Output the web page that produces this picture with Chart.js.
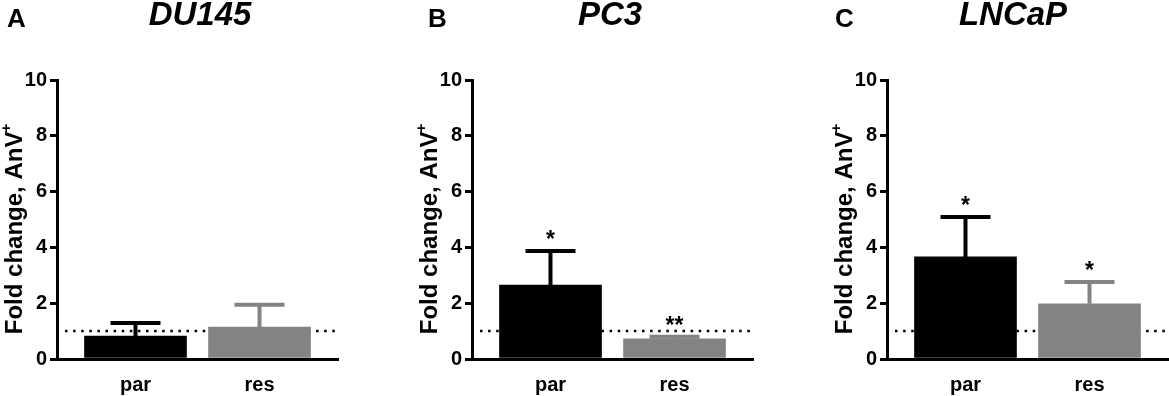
<!DOCTYPE html>
<html>
<head>
<meta charset="utf-8">
<script src="https://cdn.jsdelivr.net/npm/chart.js@4.4.1/dist/chart.umd.min.js"></script>
<style>
	body { margin: 0; background: #fff; width: 1169px; height: 396px; overflow: hidden; position: relative; }
	.panel { position: absolute; top: 0; width: 339px; height: 396px; }
</style>
</head>
<body>
<div class="panel" style="left:0"><canvas id="chartA" width="339" height="396"></canvas></div>
<div class="panel" style="left:415px"><canvas id="chartB" width="339" height="396"></canvas></div>
<div class="panel" style="left:830px"><canvas id="chartC" width="339" height="396"></canvas></div>
<script>
const categories = ['par', 'res'];
const yTicks = [0, 2, 4, 6, 8, 10];
const referenceLevel = 1;

const du145Means = [0.82, 1.14];
const du145Sem = [0.47, 0.80];
const du145Stars = ['', ''];

const pc3Means = [2.65, 0.72];
const pc3Sem = [1.22, 0.08];
const pc3Stars = ['*', '**'];

const lncapMeans = [3.66, 1.98];
const lncapSem = [1.43, 0.78];
const lncapStars = ['*', '*'];

const BAR_COLORS = ['#000000', '#838383'];
const FONT = '"Liberation Sans", Arial, sans-serif';

// errors, asterisks, dotted line, labels
const decorPlugin = {
	id: 'decor',
	beforeDatasetsDraw(chart) {
		const { ctx, chartArea, scales } = chart;
		const y = scales.y.getPixelForValue(referenceLevel);
		ctx.save();
		ctx.strokeStyle = '#000';
		ctx.lineWidth = 2.5;
		ctx.setLineDash([2.5, 5.6]);
		ctx.beginPath();
		ctx.moveTo(chartArea.left + 8, y);
		ctx.lineTo(chartArea.right, y);
		ctx.stroke();
		ctx.restore();
	},
	afterDraw(chart, args, opts) {
		const { ctx, chartArea, scales } = chart;
		const ds = chart.data.datasets[0];
		const meta = chart.getDatasetMeta(0);
		ctx.save();
		meta.data.forEach((bar, i) => {
			const top = scales.y.getPixelForValue(ds.data[i].y + ds.errors[i]);
			ctx.strokeStyle = BAR_COLORS[i];
			ctx.lineWidth = 4;
			ctx.beginPath();
			ctx.moveTo(bar.x, bar.y);
			ctx.lineTo(bar.x, top);
			ctx.moveTo(bar.x - 25, top);
			ctx.lineTo(bar.x + 25, top);
			ctx.stroke();
			if (ds.stars[i]) {
				ctx.fillStyle = '#000';
				ctx.font = 'bold 23px ' + FONT;
				ctx.textAlign = 'center';
				ctx.textBaseline = 'alphabetic';
				ctx.fillText(ds.stars[i], bar.x, top - 4);
			}
		});

		// y axis title with superscript
		ctx.fillStyle = '#000';
		ctx.translate(15, (chartArea.top + chartArea.bottom) / 2 + 9);
		ctx.rotate(-Math.PI / 2);
		ctx.textBaseline = 'middle';
		ctx.textAlign = 'left';
		ctx.font = 'bold 24px ' + FONT;
		const main = 'Fold change, AnV';
		const w = ctx.measureText(main).width;
		ctx.font = 'bold 15px ' + FONT;
		const ws = ctx.measureText('+').width;
		const x0 = -(w + ws) / 2;
		ctx.font = 'bold 24px ' + FONT;
		ctx.fillText(main, x0, 0);
		ctx.font = 'bold 15px ' + FONT;
		ctx.fillText('+', x0 + w - 1, -8);
		ctx.setTransform(1, 0, 0, 1, 0, 0);

		ctx.textAlign = 'left';
		ctx.textBaseline = 'alphabetic';
		ctx.font = 'bold 26px ' + FONT;
		ctx.fillText(opts.letter, opts.letterX, 27);
		ctx.textAlign = 'center';
		ctx.font = 'italic bold 33px ' + FONT;
		ctx.fillText(opts.title, opts.titleX, 25);
		ctx.restore();
	},
};

function makePanel(canvasId, means, sems, stars, title, letter, letterX, titleX) {
	return new Chart(document.getElementById(canvasId), {
		type: 'bar',
		data: {
			datasets: [
				{
					data: means.map((m, i) => ({ x: i, y: m })),
					backgroundColor: BAR_COLORS,
					barThickness: 102,
					errors: sems,
					stars: stars,
				},
			],
		},
		options: {
			responsive: false,
			animation: false,
			layout: { padding: { top: 80, right: 1, bottom: 0, left: 0 } },
			scales: {
				x: {
					type: 'linear',
					offset: false,
					min: -0.633,
					max: 1.633,
					afterBuildTicks: scale => {
						scale.ticks = categories.map((c, i) => ({ value: i }));
					},
					afterFit: scale => {
						scale.height = 37;
					},
					ticks: {
						callback: v => categories[v],
						color: '#000',
						font: { family: FONT, size: 20, weight: 'bold' },
						padding: 6,
						maxRotation: 0,
					},
					grid: { display: false },
					border: { display: true, width: 3, color: '#000' },
				},
				y: {
					min: 0,
					max: 10,
					afterBuildTicks: scale => {
						scale.ticks = yTicks.map(v => ({ value: v }));
					},
					afterFit: scale => {
						scale.width = 57;
					},
					ticks: {
						color: '#000',
						font: { family: FONT, size: 20, weight: 'bold' },
						padding: 3,
					},
					grid: {
						drawOnChartArea: false,
						drawTicks: true,
						tickLength: 7,
						lineWidth: 3,
						color: '#000',
					},
					border: { display: true, width: 3, color: '#000' },
				},
			},
			plugins: {
				legend: { display: false },
				tooltip: { enabled: false },
				decor: { title: title, letter: letter, letterX: letterX, titleX: titleX },
			},
		},
		plugins: [decorPlugin],
	});
}

makePanel('chartA', du145Means, du145Sem, du145Stars, 'DU145', 'A', 7, 200);
makePanel('chartB', pc3Means, pc3Sem, pc3Stars, 'PC3', 'B', 13, 195);
makePanel('chartC', lncapMeans, lncapSem, lncapStars, 'LNCaP', 'C', 5, 183);
</script>
</body>
</html>
